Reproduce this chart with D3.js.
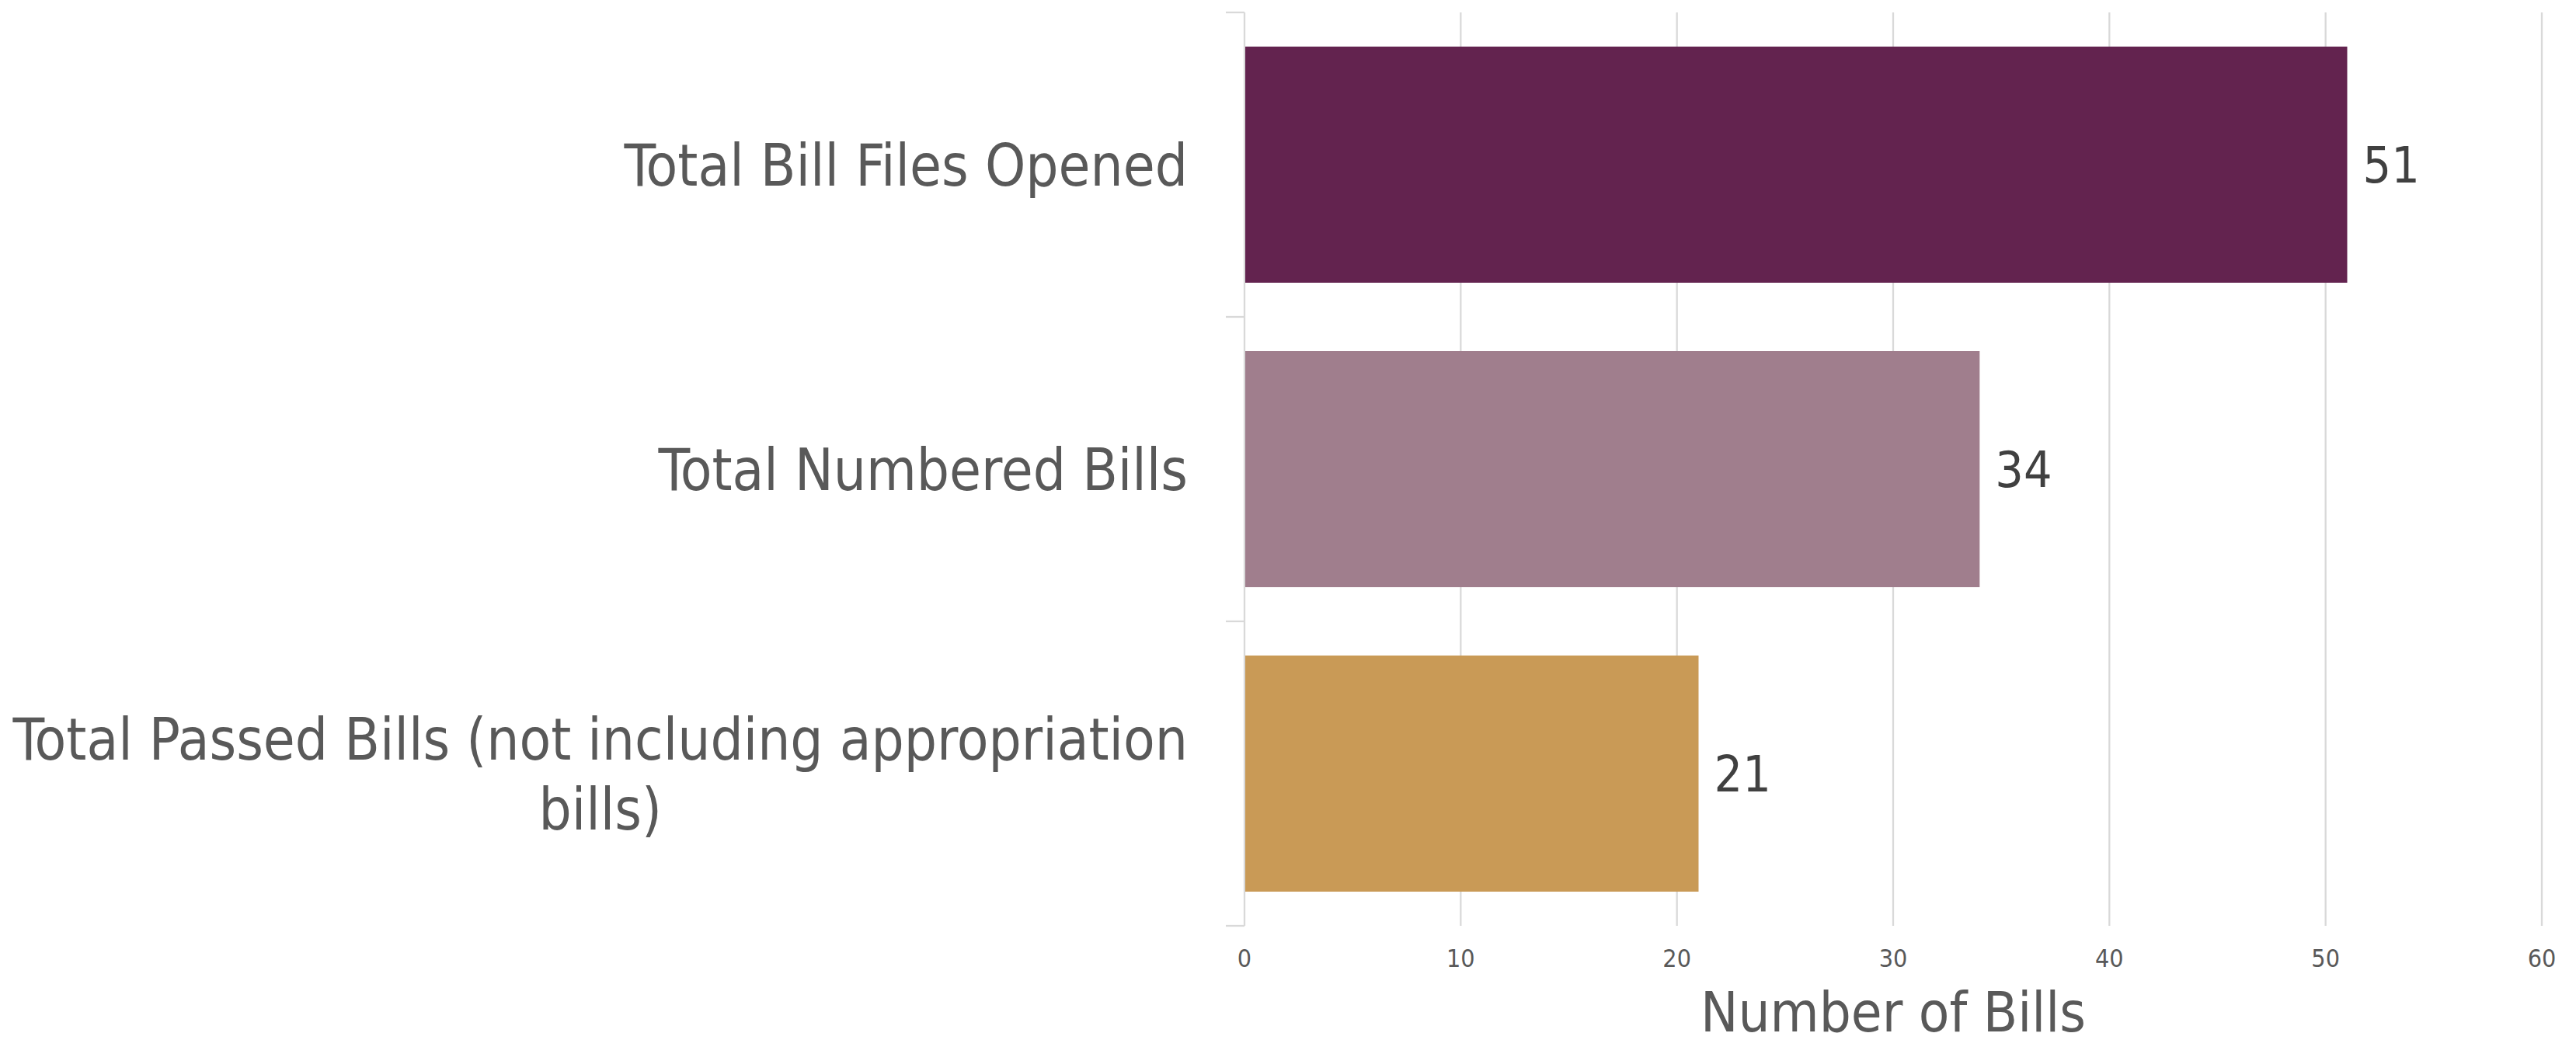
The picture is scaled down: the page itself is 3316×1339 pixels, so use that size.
<!DOCTYPE html>
<html>
<head>
<meta charset="utf-8">
<script src="https://cdn.jsdelivr.net/npm/d3@7"></script>
<style>
    body { margin: 0; background: #fff; }
    svg text { font-family: "DejaVu Sans Condensed", "DejaVu Sans", sans-serif; font-stretch: condensed; }
</style>
</head>
<body>
<svg id="drawing_region"></svg>
<script>
const categories = ["Total Bill Files Opened", "Total Numbered Bills", "Total Passed Bills (not including appropriation bills)"];
const values = [51, 34, 21];
const colors = ["#63234F", "#A07E8D", "#C99A56"];
const xTicks = [0, 10, 20, 30, 40, 50, 60];
const xTitle = "Number of Bills";

const config = {
    width: 3316,
    height: 1339,
    margin: {top: 16, right: 44, bottom: 147, left: 1602}
};

const data = categories.map((c, i) => ({label: c, value: values[i], color: colors[i]}));

const svg = d3.select('#drawing_region')
    .attr('width', config.width)
    .attr('height', config.height);

const x0 = config.margin.left, x1 = config.width - config.margin.right;
const y0 = config.margin.top, y1 = config.height - config.margin.bottom;

const xscale = d3.scaleLinear()
    .domain([0, 60])
    .range([x0, x1]);

const pad = 0.2245;
const yscale = d3.scaleBand()
    .domain(categories)
    .range([y0, y1])
    .paddingInner(pad)
    .paddingOuter(pad / 2);

const step = yscale.step();
const grid = '#d9d9d9';

// vertical gridlines
svg.append('g')
    .selectAll('line')
    .data(xTicks.filter(t => t > 0))
    .join('line')
    .attr('x1', d => xscale(d)).attr('x2', d => xscale(d))
    .attr('y1', y0).attr('y2', y1)
    .attr('stroke', grid).attr('stroke-width', 2.3);

// category axis line and boundary ticks
svg.append('line')
    .attr('x1', x0).attr('x2', x0)
    .attr('y1', y0).attr('y2', y1)
    .attr('stroke', grid).attr('stroke-width', 2.3);

const bounds = categories.map(c => yscale(c) - step * pad / 2);
bounds.push(y1);
svg.append('g')
    .selectAll('line')
    .data(bounds)
    .join('line')
    .attr('x1', x0 - 24).attr('x2', x0)
    .attr('y1', d => d).attr('y2', d => d)
    .attr('stroke', grid).attr('stroke-width', 2.3);

// bars
svg.append('g')
    .selectAll('rect')
    .data(data)
    .join('rect')
    .attr('x', xscale(0) + 1)
    .attr('y', d => yscale(d.label))
    .attr('width', d => xscale(d.value) - xscale(0) - 1)
    .attr('height', yscale.bandwidth())
    .attr('fill', d => d.color);

// value labels
svg.append('g')
    .selectAll('text')
    .data(data)
    .join('text')
    .attr('x', d => xscale(d.value) + 20)
    .attr('y', d => yscale(d.label) + yscale.bandwidth() / 2)
    .attr('dy', '0.36em')
    .attr('font-size', 64)
    .attr('fill', '#404040')
    .text(d => d.value);

// category labels, wrapped; lines centred, block right-aligned
const maxW = 1540;
const labelX = x0 - 73;
const lineH = 90;
svg.append('g')
    .selectAll('text')
    .data(data)
    .join('text')
    .attr('text-anchor', 'middle')
    .attr('font-size', 74)
    .attr('fill', '#595959')
    .each(function(d) {
        const t = d3.select(this);
        const words = d.label.split(' ');
        let lines = [], cur = [];
        const probe = t.append('tspan');
        const width = s => { probe.text(s); return probe.node().getComputedTextLength(); };
        words.forEach(w => {
            if (cur.length && width(cur.concat(w).join(' ')) > maxW) {
                lines.push(cur.join(' '));
                cur = [w];
            } else {
                cur.push(w);
            }
        });
        lines.push(cur.join(' '));
        const blockW = d3.max(lines, width);
        probe.remove();
        const cx = labelX - blockW / 2;
        const cy = yscale(d.label) + yscale.bandwidth() / 2;
        const first = cy + 27 - (lines.length - 1) * lineH / 2;
        lines.forEach((l, i) => {
            t.append('tspan')
                .attr('x', cx)
                .attr('y', first + i * lineH)
                .text(l);
        });
    });

// x tick labels
svg.append('g')
    .selectAll('text')
    .data(xTicks)
    .join('text')
    .attr('x', d => xscale(d))
    .attr('y', y1 + 53)
    .attr('text-anchor', 'middle')
    .attr('font-size', 32)
    .attr('fill', '#595959')
    .text(d => d);

// axis title
svg.append('text')
    .attr('x', (x0 + x1) / 2)
    .attr('y', 1328)
    .attr('text-anchor', 'middle')
    .attr('font-size', 72)
    .attr('fill', '#595959')
    .text(xTitle);
</script>
</body>
</html>
